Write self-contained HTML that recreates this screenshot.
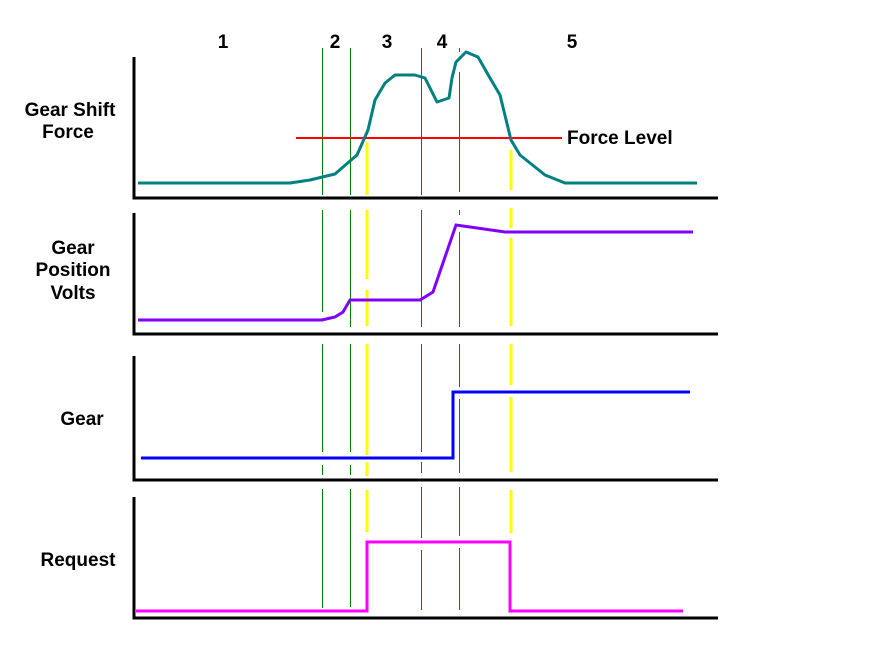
<!DOCTYPE html>
<html><head><meta charset="utf-8"><style>
html,body{margin:0;padding:0;background:#fff;}
svg{display:block;}
text{font-family:"Liberation Sans",Arial,sans-serif;font-weight:bold;font-size:19px;fill:#000;}
</style></head><body>
<svg width="890" height="656" viewBox="0 0 890 656" xmlns="http://www.w3.org/2000/svg">
<g stroke="#000" stroke-width="3" fill="none">
<polyline points="134,57 134,198 718,198"/>
<polyline points="134,213 134,334 718,334"/>
<polyline points="134,356 134,480 718,480"/>
<polyline points="134,497 134,618 718,618"/>
</g>
<g stroke="#008000" stroke-width="1" shape-rendering="crispEdges">
<line x1="322.5" y1="48" x2="322.5" y2="195"/><line x1="322.5" y1="210" x2="322.5" y2="312"/><line x1="322.5" y1="344" x2="322.5" y2="452"/><line x1="322.5" y1="465" x2="322.5" y2="475"/><line x1="322.5" y1="489" x2="322.5" y2="608"/>
<line x1="350.5" y1="48" x2="350.5" y2="195"/><line x1="350.5" y1="210" x2="350.5" y2="327"/><line x1="350.5" y1="344" x2="350.5" y2="452"/><line x1="350.5" y1="465" x2="350.5" y2="475"/><line x1="350.5" y1="489" x2="350.5" y2="607"/>
<line x1="421.5" y1="48" x2="421.5" y2="195"/><line x1="421.5" y1="210" x2="421.5" y2="327"/><line x1="421.5" y1="344" x2="421.5" y2="452"/><line x1="421.5" y1="462" x2="421.5" y2="473"/><line x1="421.5" y1="487" x2="421.5" y2="538"/><line x1="421.5" y1="550" x2="421.5" y2="610"/>
<line x1="459.5" y1="48" x2="459.5" y2="52"/><line x1="459.5" y1="72" x2="459.5" y2="192"/><line x1="459.5" y1="210" x2="459.5" y2="215"/><line x1="459.5" y1="232" x2="459.5" y2="327"/><line x1="459.5" y1="344" x2="459.5" y2="387"/><line x1="459.5" y1="399" x2="459.5" y2="473"/><line x1="459.5" y1="487" x2="459.5" y2="536"/><line x1="459.5" y1="548" x2="459.5" y2="610"/>
</g>
<g stroke="#ffff00" stroke-width="3">
<line x1="367" y1="142" x2="367" y2="195"/><line x1="367" y1="210" x2="367" y2="279"/><line x1="367" y1="290" x2="367" y2="326"/><line x1="367" y1="344" x2="367" y2="455"/><line x1="367" y1="462" x2="367" y2="476"/><line x1="367" y1="490" x2="367" y2="532"/>
<line x1="511" y1="150" x2="511" y2="190"/><line x1="511" y1="208" x2="511" y2="228"/><line x1="511" y1="238" x2="511" y2="326"/><line x1="511" y1="344" x2="511" y2="385"/><line x1="511" y1="397" x2="511" y2="472"/><line x1="511" y1="490" x2="511" y2="533"/>
</g>
<line x1="296" y1="138" x2="562" y2="138" stroke="#ff0000" stroke-width="2"/>
<polyline fill="none" stroke="#008080" stroke-width="3" stroke-linejoin="round" points="138,183 290,183 310,180 335,174 357,155 368,130 375,100 385,83 395,75 415,75 425,78 437,102 449,98 452,78 456,62 466,52 478,57 490,78 500,95 511,140 520,155 545,175 565,183 697,183"/>
<polyline fill="none" stroke="#8000ff" stroke-width="3" points="138,320 322,320 335,317 343,312 350,300 420,300 433,292 456,225 470,227 505,232 693,232"/>
<polyline fill="none" stroke="#0000ff" stroke-width="3" points="141,458 453,458 453,392 690,392"/>
<polyline fill="none" stroke="#ff00ff" stroke-width="3" points="136,611 367,611 367,542 510,542 510,611 683,611"/>
<text x="223" y="48" text-anchor="middle">1</text>
<text x="335" y="48" text-anchor="middle">2</text>
<text x="387" y="48" text-anchor="middle">3</text>
<text x="442" y="48" text-anchor="middle">4</text>
<text x="572" y="48" text-anchor="middle">5</text>
<text x="70" y="116" text-anchor="middle">Gear Shift</text>
<text x="68" y="138" text-anchor="middle">Force</text>
<text x="567" y="144">Force Level</text>
<text x="73" y="254" text-anchor="middle">Gear</text>
<text x="73" y="276" text-anchor="middle">Position</text>
<text x="73" y="299" text-anchor="middle">Volts</text>
<text x="82" y="425" text-anchor="middle">Gear</text>
<text x="78" y="566" text-anchor="middle">Request</text>
</svg>
</body></html>
